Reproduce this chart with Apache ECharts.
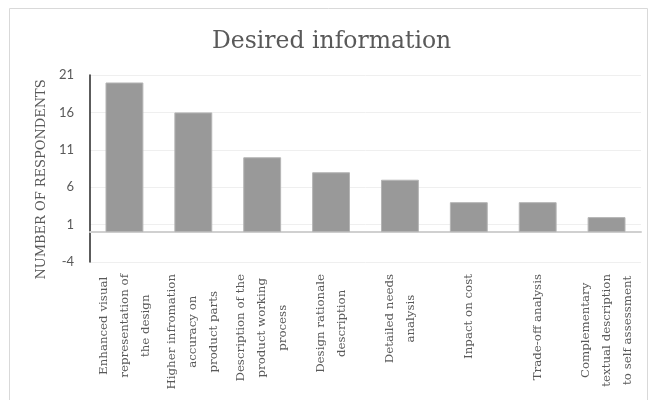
<!DOCTYPE html>
<html>
<head>
<meta charset="utf-8">
<script src="https://cdn.jsdelivr.net/npm/echarts@6/dist/echarts.min.js"></script>
<style>
html,body{margin:0;padding:0;background:#fff;}
#chart{width:648px;height:400px;}
</style>
</head>
<body>
<div id="chart"></div>
<script>
const titleText = 'Desired information';
const yAxisName = 'NUMBER OF RESPONDENTS';
const categories = [
  'Enhanced visual\nrepresentation of\nthe design',
  'Higher infromation\naccuracy on\nproduct parts',
  'Description of the\nproduct working\nprocess',
  'Design rationale\ndescription',
  'Detailed needs\nanalysis',
  'Inpact on cost',
  'Trade-off analysis',
  'Complementary\ntextual description\nto self assessment'
];
const values = [20, 16, 10, 8, 7, 4, 4, 2];
const yMin = -4, yMax = 21, yInterval = 5;

const chart = echarts.init(document.getElementById('chart'));
chart.setOption({
  backgroundColor: '#fff',
  animation: false,
  title: {
    text: titleText,
    left: 212,
    top: 30,
    padding: 0,
    textStyle: { fontFamily: 'DejaVu Serif', fontSize: 23.5, fontWeight: 'normal', color: '#595959' }
  },
  graphic: [{
    type: 'rect', left: 7, top: 6, shape: { width: 638, height: 392 },
    style: { fill: 'none', stroke: '#d9d9d9', lineWidth: 1 }, silent: true
  }],
  grid: { left: 90, right: 7, top: 75, bottom: 138, containLabel: false },
  xAxis: {
    type: 'category',
    data: categories,
    axisLine: { show: true, onZero: true, lineStyle: { color: '#d0d0d0', width: 2 } },
    axisTick: { show: false },
    axisLabel: {
      interval: 0,
      rotate: 90,
      margin: 12,
      fontFamily: 'DejaVu Serif',
      fontSize: 11.8,
      lineHeight: 21,
      color: '#595959',
      formatter: function (v) { return v.split('\n').map(s => '{c|' + s + '}').join('\n'); },
      rich: { c: { align: 'center', fontFamily: 'DejaVu Serif', fontSize: 11.8, lineHeight: 21, color: '#595959' } }
    }
  },
  yAxis: {
    type: 'value',
    min: yMin, max: yMax, interval: yInterval,
    name: yAxisName,
    nameLocation: 'middle',
    nameGap: 42,
    nameTextStyle: { fontFamily: 'DejaVu Serif', fontSize: 13, color: '#595959', padding: [0, 22, 0, 0] },
    axisLine: { show: true, lineStyle: { color: '#262626', width: 1.5 } },
    axisTick: { show: false },
    axisLabel: { margin: 16, fontFamily: 'Lato', fontSize: 13, color: '#595959' },
    splitLine: { show: true, lineStyle: { color: '#efefef', width: 1 } }
  },
  series: [{
    type: 'bar',
    data: values,
    barCategoryGap: '45%',
    itemStyle: { color: '#999999', borderColor: '#b5b5b5', borderWidth: 1 }
  }]
});
</script>
</body>
</html>
